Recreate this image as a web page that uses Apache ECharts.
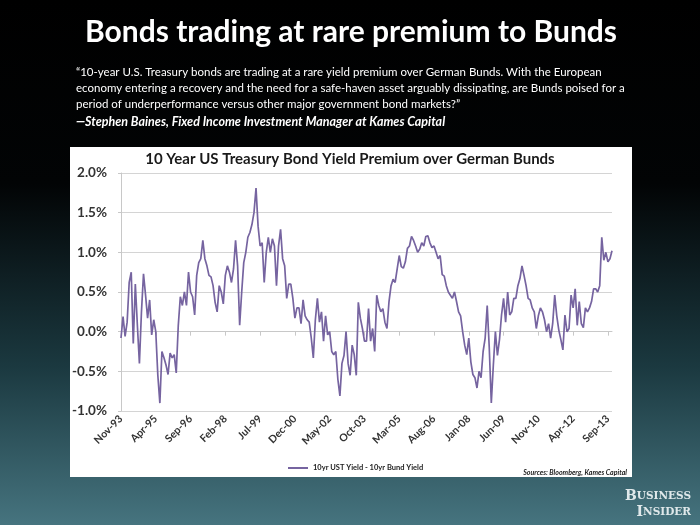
<!DOCTYPE html>
<html>
<head>
<meta charset="utf-8">
<script src="https://cdn.jsdelivr.net/npm/echarts@6/dist/echarts.min.js"></script>
<style>
html,body{margin:0;padding:0;background:#000;}
#chart{width:700px;height:525px;}
</style>
</head>
<body>
<div id="chart"></div>
<script>
// Monthly categories: Nov-93 .. Nov-13
const startYear = 1993, startMonth = 10; // November (0-based)
const monthNames = ['Jan','Feb','Mar','Apr','May','Jun','Jul','Aug','Sep','Oct','Nov','Dec'];
const months = [];
for (let i = 0; i <= 240; i++) {
  const t = startMonth + i;
  const y = startYear + Math.floor(t / 12);
  months.push(monthNames[t % 12] + '-' + String(y % 100).padStart(2, '0'));
}

// 10yr UST yield minus 10yr Bund yield (%)
const spread = [
  -0.08, 0.19, -0.06, 0.12, 0.62, 0.75, -0.15, 0.6, 0.08, -0.4,
  0.25, 0.73, 0.46, 0.17, 0.4, -0.04, 0.15, 0.0, -0.55, -0.9,
  -0.25, -0.33, -0.42, -0.54, -0.27, -0.33, -0.29, -0.52, 0.08, 0.44,
  0.33, 0.5, 0.33, 0.75, 0.5, 0.44, 0.21, 0.71, 0.87, 0.92,
  1.15, 0.92, 0.83, 0.71, 0.69, 0.58, 0.37, 0.25, 0.58, 0.5,
  0.35, 0.71, 0.83, 0.75, 0.62, 0.79, 1.15, 0.83, 0.08, 0.5,
  0.87, 1.0, 1.19, 1.25, 1.35, 1.5, 1.81, 1.33, 1.08, 1.12,
  0.62, 1.0, 1.19, 1.0, 1.17, 1.08, 0.58, 1.08, 1.29, 0.92,
  0.83, 0.42, 0.6, 0.6, 0.42, 0.17, 0.3, 0.3, 0.1, 0.4,
  0.2, 0.15, 0.12, -0.08, -0.33, 0.15, 0.42, 0.12, 0.25, -0.12,
  0.2, -0.04, 0.0, -0.25, -0.29, -0.25, -0.6, -0.81, -0.4, -0.3,
  0.0, -0.4, -0.55, -0.17, -0.29, -0.55, 0.37, 0.17, 0.04, -0.12,
  -0.12, 0.29, -0.12, 0.04, -0.25, 0.46, 0.33, 0.25, 0.29, 0.12,
  0.04, 0.38, 0.58, 0.66, 0.62, 0.79, 0.96, 0.82, 0.8, 0.88,
  1.05, 1.08, 1.2, 1.15, 1.08, 1.0, 1.04, 1.12, 1.08, 1.2,
  1.21, 1.12, 1.06, 1.08, 1.0, 0.92, 0.96, 0.72, 0.7, 0.58,
  0.5, 0.46, 0.42, 0.5, 0.38, 0.25, 0.2, 0.0, -0.17, -0.29,
  -0.08, -0.38, -0.54, -0.58, -0.71, -0.5, -0.58, -0.25, -0.08, 0.33,
  -0.2, -0.9, -0.42, 0.0, -0.3, -0.1, 0.21, 0.42, 0.12, 0.5,
  0.21, 0.25, 0.42, 0.42, 0.58, 0.67, 0.83, 0.71, 0.58, 0.42,
  0.4, 0.3, 0.25, 0.04, 0.2, 0.3, 0.25, 0.15, 0.0, 0.1,
  -0.08, 0.1, 0.46, 0.2, 0.02, -0.1, -0.23, 0.21, 0.0, 0.04,
  0.46, 0.3, 0.54, 0.08, 0.38, 0.1, 0.05, 0.3, 0.25, 0.3,
  0.38, 0.54, 0.54, 0.5, 0.58, 1.19, 0.9, 1.0, 0.88, 0.92,
  1.02
];

const yTicks = { min: -1.0, max: 2.0, step: 0.5 };
const seriesName = '10yr UST Yield - 10yr Bund Yield';

const chart = echarts.init(document.getElementById('chart'), null, { renderer: 'canvas' });
const FONT = 'Lato, "Open Sans", sans-serif';

chart.setOption({
  animation: false,
  backgroundColor: '#000',
  graphic: [
    { type: 'rect', z: -10, shape: { x: 0, y: 0, width: 700, height: 525 },
      style: { fill: { type: 'linear', x: 0, y: 0, x2: 0, y2: 1,
        colorStops: [ { offset: 0, color: '#000000' }, { offset: 0.35, color: '#020405' },
                      { offset: 0.7, color: '#1b3940' }, { offset: 1, color: '#46747f' } ] } } },
    { type: 'rect', z: -5, shape: { x: 70, y: 147, width: 562, height: 330 },
      style: { fill: '#ffffff' } },
    { type: 'text', z: 10, x: 351, y: 17,
      style: { text: 'Bonds trading at rare premium to Bunds', fill: '#ffffff',
        font: 'bold 30px ' + FONT, textAlign: 'center' } },
    { type: 'text', z: 10, x: 76, y: 64,
      style: { text: '\u201C10-year U.S. Treasury bonds are trading at a rare yield premium over German Bunds. With the European\neconomy entering a recovery and the need for a safe-haven asset arguably dissipating, are Bunds poised for a\nperiod of underperformance versus other major government bond markets?\u201D',
        fill: '#ffffff', font: '11.5px ' + FONT, lineHeight: 16 } },
    { type: 'text', z: 10, x: 76, y: 115,
      style: { text: '\u2014Stephen Baines, Fixed Income Investment Manager at Kames Capital', fill: '#ffffff',
        font: 'italic bold 12.5px ' + FONT } },
    { type: 'text', z: 10, x: 350, y: 152,
      style: { text: '10 Year US Treasury Bond Yield Premium over German Bunds', fill: '#1a1a1a',
        font: 'bold 15px ' + FONT, textAlign: 'center' } },
    { type: 'text', z: 10, x: 627, y: 469,
      style: { text: 'Sources: Bloomberg, Kames Capital', fill: '#222', font: 'italic bold 7px ' + FONT, textAlign: 'right' } },
    { type: 'text', z: 10, x: 691, y: 488,
      style: { text: '{b|B}{s|USINESS}\n{b|I}{s|NSIDER}', textAlign: 'right', fill: '#dfe8ea', lineHeight: 16,
        rich: { b: { font: 'bold 14px "DejaVu Serif", serif', fill: '#dfe8ea' },
                s: { font: 'bold 10.5px "DejaVu Serif", serif', fill: '#dfe8ea' } } } }
  ],
  grid: { left: 121, right: 88, top: 173, bottom: 114, containLabel: false },
  legend: {
    data: [seriesName], left: 283, top: 459, icon: 'rect', itemWidth: 20, itemHeight: 2,
    itemGap: 4, textStyle: { fontSize: 7.5, fontWeight: 'bold', color: '#222', fontFamily: FONT }
  },
  xAxis: [
    { type: 'category', data: months, boundaryGap: false, position: 'bottom',
      axisLine: { show: false, onZero: false }, axisTick: { show: false },
      axisLabel: { interval: 16, rotate: 45, fontSize: 10.5, fontWeight: 'bold', color: '#333',
        fontFamily: FONT, margin: 6 },
      splitLine: { show: false } },
    { type: 'category', data: months, boundaryGap: false, position: 'top',
      axisLine: { show: true, onZero: true, lineStyle: { color: '#c8c8c8', width: 1 } },
      axisTick: { show: true, interval: 16, inside: true, length: 4, lineStyle: { color: '#c8c8c8' } },
      axisLabel: { show: false }, splitLine: { show: false } }
  ],
  yAxis: {
    type: 'value', min: yTicks.min, max: yTicks.max, interval: yTicks.step,
    axisLine: { show: true, lineStyle: { color: '#c8c8c8' } },
    axisTick: { show: true, length: 3, lineStyle: { color: '#c8c8c8' } },
    axisLabel: { formatter: v => v.toFixed(1) + '%', fontSize: 13.5, fontWeight: 'bold', color: '#333',
      fontFamily: FONT, margin: 14 },
    splitLine: { lineStyle: { color: '#d4d4d4', width: 1 } }
  },
  series: [{
    name: seriesName, type: 'line', data: spread, xAxisIndex: 0, showSymbol: false,
    lineStyle: { color: '#7664a0', width: 1.7 }, itemStyle: { color: '#7664a0' }
  }]
});
</script>
</body>
</html>
